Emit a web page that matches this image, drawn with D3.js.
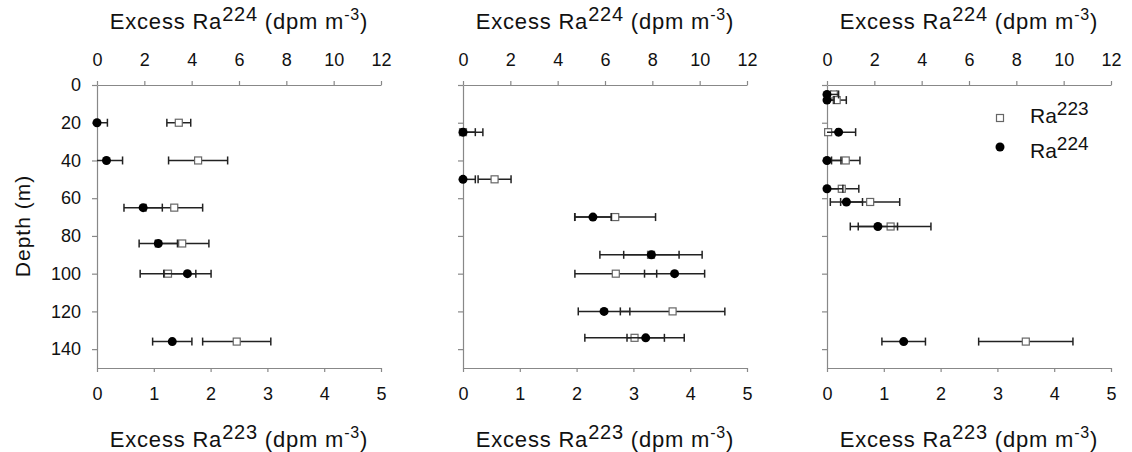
<!DOCTYPE html>
<html><head><meta charset="utf-8">
<script src="https://cdn.jsdelivr.net/npm/d3@7"></script>
<style>
body{margin:0;background:#fff}
text{font-family:"Liberation Sans",Arial,sans-serif;fill:#111}
</style>
</head><body>
<svg id="c" width="1132" height="452"></svg>
<script>
// ---- data ----
const depthTicks = [0, 20, 40, 60, 80, 100, 120, 140];
const ra224Ticks = [0, 2, 4, 6, 8, 10, 12];
const ra223Ticks = [0, 1, 2, 3, 4, 5];

// Panel 1
const depth1 = [20, 40, 65, 84, 100, 136];
const ra224_1 = [0.0, 0.4, 1.95, 2.59, 3.82, 3.18];
const ra224err_1 = [0.44, 0.68, 0.81, 0.81, 1.0, 0.83];
const ra223_1 = [1.44, 1.78, 1.36, 1.50, 1.25, 2.46];
const ra223err_1 = [0.21, 0.52, 0.5, 0.47, 0.49, 0.6];

// Panel 2
const depth2 = [25, 50, 70, 90, 100, 120, 134];
const ra224_2 = [0, 0, 5.49, 7.96, 8.94, 5.96, 7.72];
const ra224err_2 = [0.52, 0.52, 0.77, 1.17, 1.27, 1.09, 0.79];
const ra223_2 = [0, 0.556, 2.68, 3.31, 2.69, 3.69, 3.02];
const ra223err_2 = [0.35, 0.29, 0.71, 0.9, 0.72, 0.92, 0.875];

// Panel 3
const depth3 = [5, 8, 25, 40, 55, 62, 75, 136];
const ra224_3 = [0, 0, 0.49, 0, 0, 0.82, 2.15, 3.24];
const ra224err_3 = [0.49, 0.3, 0.72, 0.59, 0.67, 0.68, 0.83, 0.92];
const ra223_3 = [0.12, 0.17, 0.02, 0.33, 0.26, 0.76, 1.12, 3.50];
const ra223err_3 = [0.05, 0.17, 0.15, 0.25, 0.3, 0.52, 0.71, 0.83];

const panels = [
  {depth: depth1, r224: ra224_1, e224: ra224err_1, r223: ra223_1, e223: ra223err_1},
  {depth: depth2, r224: ra224_2, e224: ra224err_2, r223: ra223_2, e223: ra223err_2},
  {depth: depth3, r224: ra224_3, e224: ra224err_3, r223: ra223_3, e223: ra223err_3}
];

// ---- layout ----
const lefts = [97, 463, 827];
const W = 284, plotTop = 85, H = 283;
const axisColor = "#888";
const svg = d3.select("#c");

function title(x, y, sup) {
  const t = svg.append("text").attr("x", x).attr("y", y)
    .attr("text-anchor", "middle").style("font-size", "22px").style("letter-spacing", "0.8px");
  t.append("tspan").text("Excess Ra");
  t.append("tspan").attr("dy", -8).style("font-size", "20px").text(sup);
  t.append("tspan").attr("dy", 8).text(" (dpm m");
  t.append("tspan").attr("dy", -9).style("font-size", "16px").text("-3");
  t.append("tspan").attr("dy", 9).text(")");
}

panels.forEach((p, i) => {
  const L = lefts[i];
  const x224 = d3.scaleLinear().domain([0, 12]).range([L, L + W]);
  const x223 = d3.scaleLinear().domain([0, 5]).range([L, L + W]);
  const y = d3.scaleLinear().domain([0, 150]).range([plotTop, plotTop + H]);
  const g = svg.append("g");

  const styleAxis = sel => {
    sel.selectAll("path,line").attr("stroke", axisColor).attr("stroke-width", 1.2);
    sel.selectAll("text").style("font-size", "18px").attr("fill", "#111")
      .style("font-family", '"Liberation Sans",Arial,sans-serif');
  };

  g.append("g").attr("transform", `translate(0,${plotTop})`)
    .call(d3.axisTop(x224).tickValues(ra224Ticks).tickFormat(d3.format("d"))
      .tickSize(4).tickSizeOuter(0).tickPadding(15))
    .call(styleAxis);
  g.append("g").attr("transform", `translate(0,${plotTop + H})`)
    .call(d3.axisBottom(x223).tickValues(ra223Ticks).tickFormat(d3.format("d"))
      .tickSize(4).tickSizeOuter(0).tickPadding(15))
    .call(styleAxis);
  const la = d3.axisLeft(y).tickValues(depthTicks).tickSize(5).tickSizeOuter(0).tickPadding(11);
  la.tickFormat(i > 0 ? "" : d3.format("d"));
  g.append("g").attr("transform", `translate(${L},0)`).call(la).call(styleAxis);

  title(L + W / 2, 29, "224");
  title(L + W / 2, 447, "223");

  const clipId = "clip" + i;
  svg.append("clipPath").attr("id", clipId).append("rect")
    .attr("x", L).attr("y", plotTop - 10).attr("width", W + 10).attr("height", H + 20);

  const rows = p.depth.map((d, k) => ({d, v224: p.r224[k], e224: p.e224[k], v223: p.r223[k], e223: p.e223[k]}));

  function errBars(xs, vk, ek) {
    const eb = g.append("g").attr("clip-path", `url(#${clipId})`)
      .attr("stroke", "#222").attr("stroke-width", 1.5);
    rows.forEach(r => {
      const x0 = xs(r[vk] - r[ek]), x1 = xs(r[vk] + r[ek]), yy = y(r.d);
      eb.append("line").attr("x1", x0).attr("x2", x1).attr("y1", yy).attr("y2", yy);
      eb.append("line").attr("x1", x0).attr("x2", x0).attr("y1", yy - 4).attr("y2", yy + 4);
      eb.append("line").attr("x1", x1).attr("x2", x1).attr("y1", yy - 4).attr("y2", yy + 4);
    });
  }

  // Ra223 series
  errBars(x223, "v223", "e223");
  g.append("g").selectAll("rect").data(rows).join("rect")
    .attr("x", r => x223(r.v223) - 3.5).attr("y", r => y(r.d) - 3.5)
    .attr("width", 7).attr("height", 7)
    .attr("fill", "#fff").attr("stroke", "#666").attr("stroke-width", 1.2);

  // Ra224 series
  errBars(x224, "v224", "e224");
  g.append("g").selectAll("circle").data(rows).join("circle")
    .attr("cx", r => x224(r.v224)).attr("cy", r => y(r.d)).attr("r", 4.5).attr("fill", "#000");
});

// y label
svg.append("text").attr("transform", "translate(30,226) rotate(-90)")
  .attr("text-anchor", "middle").style("font-size", "21px").style("letter-spacing", "1px")
  .text("Depth (m)");

// legend
const lg = svg.append("g");
lg.append("rect").attr("x", 996.5).attr("y", 114.5).attr("width", 7).attr("height", 7)
  .attr("fill", "#fff").attr("stroke", "#666").attr("stroke-width", 1.2);
lg.append("circle").attr("cx", 1000).attr("cy", 147).attr("r", 4.5).attr("fill", "#000");
[["223", 123], ["224", 158]].forEach(([s, yy]) => {
  const t = lg.append("text").attr("x", 1030).attr("y", yy).style("font-size", "21px");
  t.append("tspan").text("Ra");
  t.append("tspan").attr("dy", -8).style("font-size", "19px").text(s);
});
</script>
</body></html>
